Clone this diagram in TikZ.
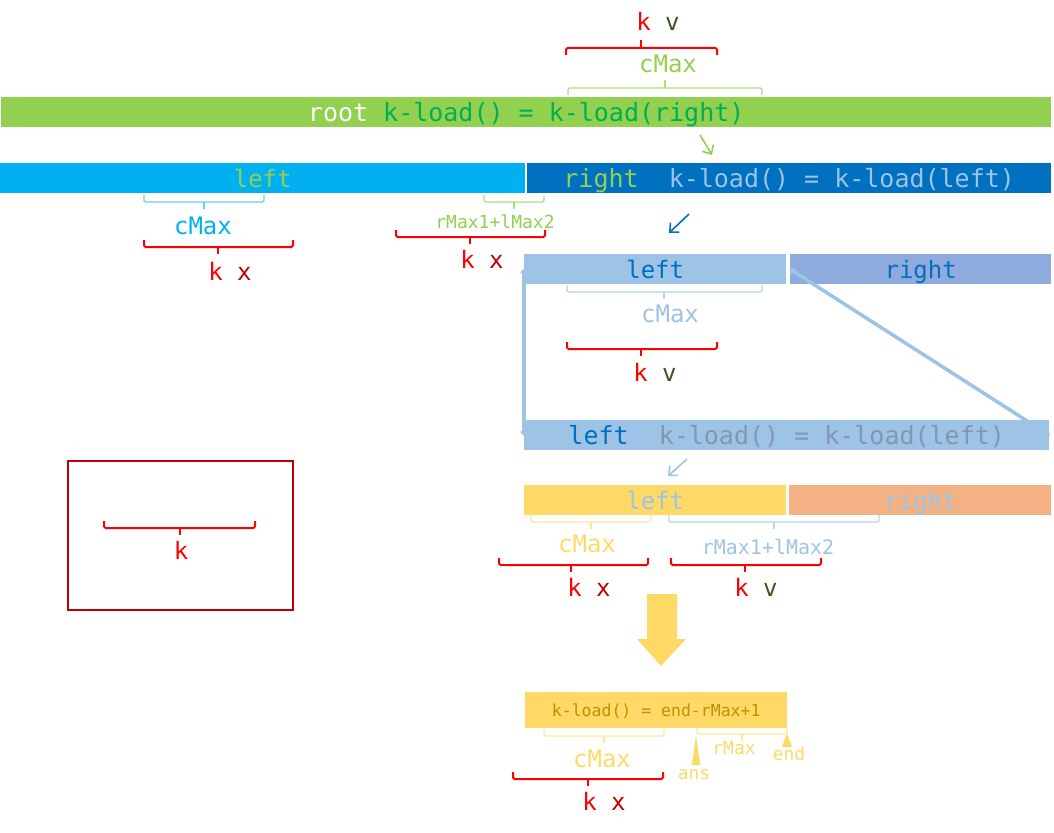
\documentclass[tikz,border=0pt]{standalone}
\usepackage{fontspec}
\setmainfont{DejaVu Sans Mono}
\usetikzlibrary{arrows.meta}
\tikzset{>={Straight Barb[length=7pt,width=13pt]}}
\definecolor{rootgreen}{HTML}{92D050}
\definecolor{kgreen}{HTML}{00B050}
\definecolor{cyanbar}{HTML}{00B0F0}
\definecolor{darkblue}{HTML}{0070C0}
\definecolor{lblue}{HTML}{9DC3E6}
\definecolor{peri}{HTML}{8FAADC}
\definecolor{yellowbar}{HTML}{FFD966}
\definecolor{salmon}{HTML}{F4B183}
\definecolor{kred}{HTML}{FF0000}
\definecolor{xred}{HTML}{C00000}
\definecolor{vgreen}{HTML}{375623}
\definecolor{fgray}{HTML}{8497B0}
\definecolor{dyellow}{HTML}{BF9000}
\definecolor{lyellow}{HTML}{FFE699}
\newcommand*{\fs}[1]{\fontsize{#1}{#1}\selectfont}
% brace under something: x1, x2, tip x, y, style
\newcommand*{\dnbrace}[5]{%
  \draw[#5,rounded corners=1.5pt] (#1,#4-7) -- (#1,#4) -- (#2,#4) -- (#2,#4-7);
  \draw[#5] (#3,#4) -- (#3,#4+7);}
% brace over something: x1, x2, tip x, y, style
\newcommand*{\upbrace}[5]{%
  \draw[#5,rounded corners=1.5pt] (#1,#4+7) -- (#1,#4) -- (#2,#4) -- (#2,#4+7);
  \draw[#5] (#3,#4) -- (#3,#4-8);}

\begin{document}
\begin{tikzpicture}[x=1pt,y=-1pt,
  bar/.style={inner sep=0pt,anchor=north west,minimum height=30pt,
    font=\fs{24},text height=18pt,text depth=0pt},
  fbar/.style={bar,font=\fs{25},text height=19pt},
  lbl/.style={inner sep=0pt,font=\fs{24},text height=18pt,text depth=0pt},
  slbl/.style={inner sep=0pt,font=\fs{18},text height=13.7pt,text depth=0pt},
  redbr/.style={draw=kred,line width=2pt},
  litebr/.style={line width=1.3pt},
  arr/.style={->,line width=1.6pt},
  conn/.style={draw=lblue,line width=3.5pt,
    {Circle[length=6pt]}-{Circle[length=6pt]}}]
\useasboundingbox (0,0) rectangle (1054,832);

% Root
\node[fbar,fill=rootgreen,minimum width=1050pt,text=kgreen] (root) at (1,97)
  {\textcolor{white}{root} k-load() = k-load(right)};
\upbrace{566}{717}{641}{48}{redbr}
\node[lbl] (kvtop) at (658,22) {\textcolor{kred}{k} \textcolor{vgreen}{v}};
\upbrace{568}{762}{665}{88}{litebr,rootgreen!75}
\node[lbl,text=rootgreen] (cmaxtop) at (668,64) {cMax};

\coordinate (ga1) at (700,135);
\coordinate (ga2) at (712,155);
\draw[arr,rootgreen] (ga1) -- (ga2);

% Second row
\node[bar,fill=cyanbar,minimum width=525pt,text=rootgreen] (l2) at (0,163) {left};
\node[fbar,fill=darkblue,minimum width=524pt,text=lblue] (r2) at (527,163)
  {\textcolor{rootgreen}{right}\ \ k-load() = k-load(left)};

\dnbrace{144}{264}{204}{202}{litebr,cyanbar!60}
\node[lbl,text=cyanbar] (cmax2) at (203,225) {cMax};
\dnbrace{144}{293}{218}{247}{redbr}
\node[lbl] (kx2) at (230,271) {\textcolor{kred}{k} \textcolor{xred}{x}};

\dnbrace{484}{544}{514}{202}{litebr,rootgreen!75}
\node[slbl,text=rootgreen] (rl2) at (495,222) {rMax1+lMax2};
\dnbrace{396}{545}{470}{237}{redbr}
\node[lbl] (kx2b) at (482,259) {\textcolor{kred}{k} \textcolor{xred}{x}};

\coordinate (ba1) at (689,214);
\coordinate (ba2) at (669,233);
\draw[arr,darkblue] (ba1) -- (ba2);

% Third row
\node[bar,fill=lblue,minimum width=262pt,text=darkblue] (l3) at (524,254) {left};
\node[bar,fill=peri,minimum width=261pt,text=darkblue] (r3) at (790,254) {right};

\dnbrace{567}{762}{664}{292}{litebr,lblue!75}
\node[lbl,text=lblue] (cmax3) at (670,313) {cMax};
\dnbrace{567}{717}{641}{349}{redbr}
\node[lbl] (kv3) at (655,372) {\textcolor{kred}{k} \textcolor{vgreen}{v}};

% Fourth row
\node[fbar,fill=lblue,minimum width=525pt,text=fgray] (r4) at (524,420)
  {\textcolor{darkblue}{left}\ \ k-load() = k-load(left)};

\draw[conn] (l3.west) -- (r4.west);
\draw[conn] (r3.west) -- (r4.east);

\coordinate (la1) at (687,459);
\coordinate (la2) at (668,476);
\draw[arr,lblue] (la1) -- (la2);

% Fifth row
\node[bar,fill=yellowbar,minimum width=262pt,text=lblue] (l5) at (524,485) {left};
\node[bar,fill=salmon,minimum width=262pt,text=lblue] (r5) at (789,485) {right};

\dnbrace{531}{651}{591}{522}{litebr,lyellow}
\node[lbl,text=yellowbar] (cmax5) at (587,543) {cMax};
\dnbrace{669}{879}{774}{522}{litebr,lblue!75}
\node[inner sep=0pt,font=\fs{20},text height=15.2pt,text depth=0pt,text=lblue]
  (rl5) at (768,547) {rMax1+lMax2};
\dnbrace{499}{648}{571}{565}{redbr}
\node[lbl] (kx5) at (589,587) {\textcolor{kred}{k} \textcolor{xred}{x}};
\dnbrace{671}{821}{745}{565}{redbr}
\node[lbl] (kv5) at (756,587) {\textcolor{kred}{k} \textcolor{vgreen}{v}};

% Big arrow
\fill[fill=yellowbar] (647,594) -- (677,594) -- (677,639) -- (686,639) -- (661,666)
  -- (637,639) -- (647,639) -- cycle;

% Result
\node[bar,fill=yellowbar,minimum width=262pt,minimum height=36pt,font=\fs{16.5},
  text height=12.5pt,text=dyellow] (res) at (525,692) {k-load() = end-rMax+1};

\dnbrace{544}{664}{604}{736}{litebr,lyellow}
\node[lbl,text=yellowbar] (cmax6) at (602,758) {cMax};
\dnbrace{697}{787}{742}{734}{litebr,lyellow}
\node[slbl,text=yellowbar] (rmax) at (734,748) {rMax};
\fill[fill=yellowbar] (696,735) -- (700,765) -- (692,765) -- cycle;
\node[slbl,text=yellowbar] (ans) at (694,773) {ans};
\fill[fill=yellowbar] (787,733) -- (792,747) -- (782,747) -- cycle;
\node[slbl,text=yellowbar] (endl) at (789,754) {end};
\dnbrace{513}{663}{588}{779}{redbr}
\node[lbl] (kx6) at (604,801) {\textcolor{kred}{k} \textcolor{xred}{x}};

% Legend box
\draw[xred,line width=2pt] (68,461) rectangle (293,610);
\dnbrace{104}{255}{180}{528}{redbr}
\node[lbl,text=kred] (kleg) at (181,550) {k};

\end{tikzpicture}
\end{document}
